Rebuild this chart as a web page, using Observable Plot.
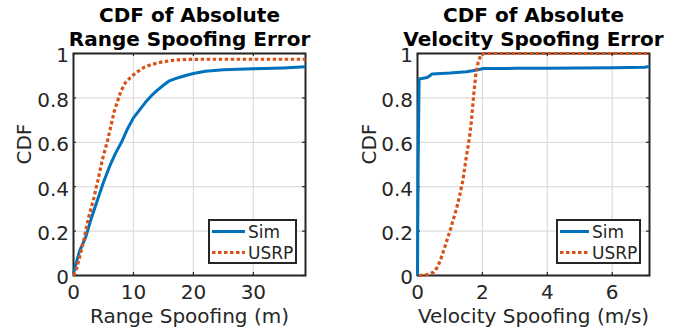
<!DOCTYPE html>
<html><head><meta charset="utf-8">
<script src="https://cdn.jsdelivr.net/npm/d3@7"></script>
<script src="https://cdn.jsdelivr.net/npm/@observablehq/plot@0.6"></script>
<style>
body{margin:0;background:#fff;}
#root{position:relative;width:694px;height:333px;overflow:hidden;background:#fff;font-family:"DejaVu Sans",sans-serif;}
.panel{position:absolute;top:0;}
.legend{position:absolute;}
</style>
</head><body>
<div id="root"></div>
<script>
// ---- data ----
const seriesNames = ["Sim", "USRP"];
const seriesColors = ["#0072BD", "#D95319"];

const rangeSimX = [0, 0.5, 1, 2, 3, 4, 5, 6, 7, 8, 9, 10, 11, 12, 13, 14, 15, 16, 17, 18, 19, 20, 22, 25, 30, 35, 38.7];
const rangeSimY = [0.01, 0.06, 0.11, 0.17, 0.26, 0.34, 0.42, 0.49, 0.55, 0.60, 0.66, 0.71, 0.745, 0.78, 0.81, 0.835, 0.857, 0.877, 0.887, 0.895, 0.903, 0.91, 0.92, 0.927, 0.931, 0.935, 0.94];

const rangeUsrpX = [0, 0.5, 1, 1.8, 2.5, 3.4, 4, 4.8, 5.7, 6.8, 7.9, 8.7, 9.55, 10.5, 11.8, 13, 14.6, 16, 17.3, 19, 21, 25, 30, 35, 38.7];
const rangeUsrpY = [0, 0.03, 0.08, 0.17, 0.26, 0.35, 0.42, 0.52, 0.61, 0.74, 0.83, 0.87, 0.893, 0.915, 0.938, 0.95, 0.961, 0.967, 0.971, 0.973, 0.974, 0.974, 0.974, 0.974, 0.974];

const velSimX = [0, 0.02, 0.05, 0.3, 0.38, 0.45, 1.0, 1.5, 1.7, 1.85, 2.05, 3, 4, 5, 6, 7, 7.15];
const velSimY = [0, 0.5, 0.885, 0.892, 0.9, 0.908, 0.912, 0.918, 0.922, 0.927, 0.932, 0.933, 0.934, 0.935, 0.936, 0.938, 0.942];

const velUsrpX = [0.05, 0.3, 0.5, 0.6, 0.7, 0.8, 0.9, 1.0, 1.1, 1.2, 1.3, 1.4, 1.5, 1.6, 1.65, 1.7, 1.75, 1.8, 1.87, 1.95, 2.05, 3, 5, 7.15];
const velUsrpY = [0, 0.004, 0.015, 0.035, 0.065, 0.11, 0.155, 0.2, 0.25, 0.3, 0.36, 0.43, 0.53, 0.62, 0.68, 0.76, 0.84, 0.91, 0.96, 0.993, 1, 1, 1, 1];

const rangeTicksX = [0, 10, 20, 30];
const velTicksX = [0, 2, 4, 6];
const ticksY = [0, 0.2, 0.4, 0.6, 0.8, 1];

const rangeTitle = ["CDF of Absolute", "Range Spoofing Error"];
const velTitle = ["CDF of Absolute", "Velocity Spoofing Error"];
const rangeXLabel = "Range Spoofing (m)";
const velXLabel = "Velocity Spoofing (m/s)";
const yLabel = "CDF";

// ---- helpers ----
const toPts = (xs, ys) => xs.map((x, i) => ({x, y: ys[i]}));
const AX = "#262626";
const FONT = "DejaVu Sans, sans-serif";
const DASH = "3.5,2.5";

function panel({left, marginLeft, marginRight, xMax, xTicks, sim, usrp, title, xLabel, yLabelX}) {
  const W = 347, H = 333, mT = 53, mB = 58;
  const tickLenX = xMax * 3 / (W - marginLeft - marginRight);
  const tickLenY = 3 / (H - mT - mB);
  const svg = Plot.plot({
    width: W, height: H,
    marginLeft, marginRight, marginTop: mT, marginBottom: mB,
    style: {fontFamily: FONT, fontSize: "20px", color: AX, background: "transparent", overflow: "visible"},
    x: {domain: [0, xMax]},
    y: {domain: [0, 1]},
    marks: [
      Plot.gridX(xTicks, {stroke: "#dedede", strokeOpacity: 1, strokeWidth: 1.3}),
      Plot.gridY(ticksY, {stroke: "#dedede", strokeOpacity: 1, strokeWidth: 1.3}),
      // inward tick marks on all four sides
      Plot.ruleX(xTicks, {x: d => d, y1: 0, y2: tickLenY, stroke: AX, strokeWidth: 1.2}),
      Plot.ruleX(xTicks, {x: d => d, y1: 1 - tickLenY, y2: 1, stroke: AX, strokeWidth: 1.2}),
      Plot.ruleY(ticksY, {y: d => d, x1: 0, x2: tickLenX, stroke: AX, strokeWidth: 1.2}),
      Plot.ruleY(ticksY, {y: d => d, x1: xMax - tickLenX, x2: xMax, stroke: AX, strokeWidth: 1.2}),
      Plot.frame({stroke: AX, strokeWidth: 2}),
      Plot.axisX({ticks: xTicks, tickSize: 0, tickPadding: 9, tickFormat: d => String(d), fill: AX, fontSize: 20, label: null}),
      Plot.axisY({ticks: ticksY, tickSize: 0, tickPadding: 4.5, tickFormat: d => String(d), fill: AX, fontSize: 20, dy: 2.5, label: null}),
      Plot.line(sim, {x: "x", y: "y", stroke: seriesColors[0], strokeWidth: 3, strokeLinejoin: "round", strokeLinecap: "butt"}),
      Plot.line(usrp, {x: "x", y: "y", stroke: seriesColors[1], strokeWidth: 3.2, strokeDasharray: DASH, strokeLinejoin: "miter", strokeLinecap: "butt"}),
      Plot.text([title[0]], {frameAnchor: "top", lineAnchor: "bottom", dy: 21 - mT, fontWeight: "bold", fontSize: 20, fill: "#000"}),
      Plot.text([title[1]], {frameAnchor: "top", lineAnchor: "bottom", dy: 45 - mT, fontWeight: "bold", fontSize: 20, fill: "#000"}),
      Plot.text([xLabel], {frameAnchor: "bottom", lineAnchor: "bottom", dy: 322 - (H - mB), fontSize: 20, fill: AX}),
      Plot.text([yLabel], {frameAnchor: "left", lineAnchor: "bottom", rotate: -90, dx: yLabelX - marginLeft, fontSize: 20, fill: AX})
    ]
  });
  svg.classList.add("panel");
  svg.style.left = left + "px";
  return svg;
}

const root = document.getElementById("root");
root.appendChild(panel({left: 0, marginLeft: 73, marginRight: 42, xMax: 38.7, xTicks: rangeTicksX,
  sim: toPts(rangeSimX, rangeSimY), usrp: toPts(rangeUsrpX, rangeUsrpY), title: rangeTitle, xLabel: rangeXLabel, yLabelX: 30}));
root.appendChild(panel({left: 347, marginLeft: 70, marginRight: 45, xMax: 7.15, xTicks: velTicksX,
  sim: toPts(velSimX, velSimY), usrp: toPts(velUsrpX, velUsrpY), title: velTitle, xLabel: velXLabel, yLabelX: 28}));

// ---- legends ----
function legend(left, top, w, h, sampleLen) {
  const s = d3.create("svg").attr("class", "legend").attr("width", w).attr("height", h)
    .style("left", left + "px").style("top", top + "px");
  s.append("rect").attr("x", 1).attr("y", 1).attr("width", w - 2).attr("height", h - 2)
    .attr("fill", "#fff").attr("stroke", AX).attr("stroke-width", 2);
  seriesNames.forEach((name, i) => {
    const cy = 12.5 + i * 21;
    s.append("line").attr("x1", 4).attr("x2", 4 + sampleLen).attr("y1", cy).attr("y2", cy)
      .attr("stroke", seriesColors[i]).attr("stroke-width", i ? 3.2 : 3)
      .attr("stroke-dasharray", i ? DASH : null);
    s.append("text").attr("x", 7 + sampleLen).attr("y", cy + 6).attr("font-family", FONT)
      .attr("font-size", 17).attr("fill", AX).text(name);
  });
  return s.node();
}
root.appendChild(legend(208, 219, 89, 45, 33));
root.appendChild(legend(556, 219, 85, 45, 29));
</script>
</body></html>
